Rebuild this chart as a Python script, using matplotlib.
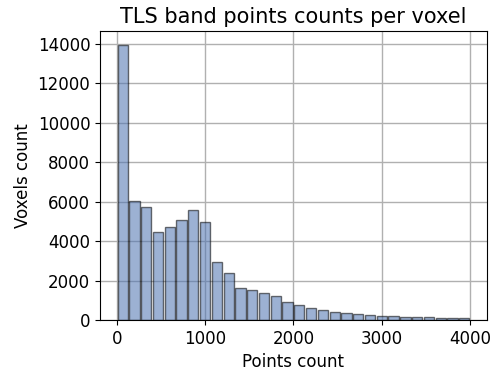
import numpy as np
import matplotlib
matplotlib.use("Agg")
import matplotlib.pyplot as plt

# voxel counts per bin of points count (30 bins from 0 to 4000)
bin_edges = np.linspace(0, 4000, 31)
voxel_counts = [13950, 6050, 5720, 4460, 4720, 5070, 5580, 4960, 2960, 2370,
                1640, 1505, 1370, 1220, 900, 745, 594, 492, 390, 340,
                289, 238, 203, 186, 152, 152, 135, 118, 100, 100]

bin_centers = (bin_edges[:-1] + bin_edges[1:]) / 2

fig = plt.figure(figsize=(4.94, 3.70), dpi=100)
ax = fig.add_axes([0.2024, 0.1351, 0.7834, 0.7811])

ax.grid(True, color='#b0b0b0', linewidth=1)
ax.set_axisbelow(True)
ax.hist(bin_centers, bins=bin_edges, weights=voxel_counts, rwidth=0.87,
        color='#4c72b0', edgecolor='black', linewidth=1, alpha=0.55)

ax.set_title('TLS band points counts per voxel', fontsize=15)
ax.set_xlabel('Points count', fontsize=12)
ax.set_ylabel('Voxels count', fontsize=12)
ax.tick_params(labelsize=12)
ax.set_xticks([0, 1000, 2000, 3000, 4000])

fig.savefig('out.png', dpi=100)
